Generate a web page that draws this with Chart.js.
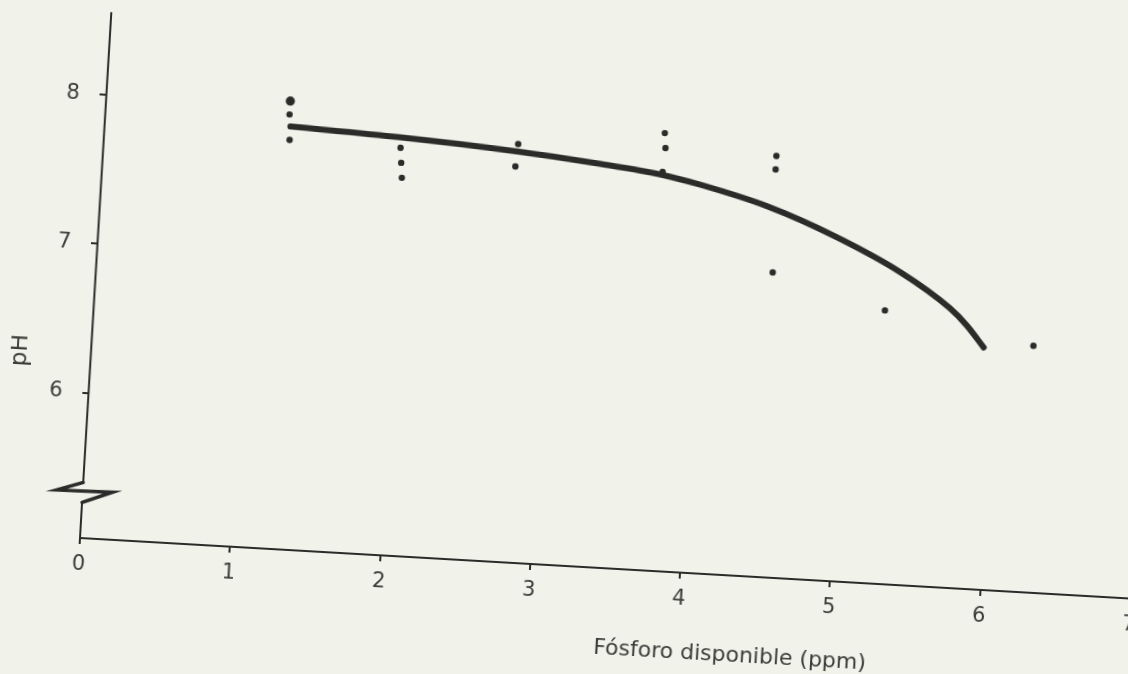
<!DOCTYPE html>
<html lang="es">
<head>
<meta charset="utf-8">
<title>pH y fósforo disponible</title>
<script src="https://cdn.jsdelivr.net/npm/chart.js@4.4.1/dist/chart.umd.min.js"></script>
<style>
  html, body { margin: 0; padding: 0; width: 1128px; height: 674px; overflow: hidden; background: #f1f2ea; }
  /* the drawing sits slightly tilted on the sheet */
  #hoja { position: absolute; left: 0; top: 0; width: 1180px; height: 674px;
          transform-origin: 80px 538px; transform: rotate(3.3deg); }
</style>
</head>
<body>
<div id="hoja"><canvas id="grafico"></canvas></div>
<script>
// Fitted curve: available phosphorus (ppm) vs pH
const curvaFosforo = [1.24, 1.97, 2.76, 3.31, 3.73, 3.98, 4.44, 4.89, 5.35, 5.69, 5.81, 5.93];
const curvaPH      = [7.86, 7.83, 7.78, 7.73, 7.68, 7.63, 7.51, 7.34, 7.12, 6.90, 6.79, 6.65];

// Observed samples
const muestraFosforo = [1.23, 1.24, 1.98, 1.99, 2.00, 2.76, 2.75, 3.73, 3.74, 3.73, 4.48, 4.48, 4.50, 5.26, 6.26];
const muestraPH      = [7.94, 7.77, 7.76, 7.66, 7.56, 7.83, 7.68, 7.96, 7.86, 7.70, 7.85, 7.76, 7.07, 6.86, 6.68];

// Larger ink dot at the top of the first group
const destacadoFosforo = [1.23];
const destacadoPH      = [8.03];

// Axis ticks and range
const ticksX = [0, 1, 2, 3, 4, 5, 6, 7];
const ticksY = [6, 7, 8];
const rangoX = [0, 7];
const rangoY = [5.028, 8.55];
const corteY = 5.34;   // where the pH axis is broken

const tituloX = 'Fósforo disponible (ppm)';
const tituloY = 'pH';

const aPuntos = (xs, ys) => xs.map((x, i) => ({ x: x, y: ys[i] }));

const tinta = '#2b2b29';
const gris  = '#3c3c39';
const fuente = "'DejaVu Sans', 'Liberation Sans', Arial, sans-serif";

// Draws the broken pH axis and both axis titles
const ejes = {
  id: 'ejes',
  afterDraw(chart) {
    const { ctx, chartArea, scales } = chart;
    const x0 = scales.x.getPixelForValue(rangoX[0]);
    const yTop = scales.y.getPixelForValue(rangoY[1]);
    const yBot = scales.y.getPixelForValue(rangoY[0]);
    const yc = scales.y.getPixelForValue(corteY);

    ctx.save();
    ctx.strokeStyle = tinta;
    ctx.lineJoin = 'miter';
    ctx.lineCap = 'round';
    ctx.lineWidth = 2;
    ctx.beginPath();
    ctx.moveTo(x0 + 1, yTop);
    ctx.lineTo(x0, yc - 9);
    ctx.stroke();
    ctx.beginPath();
    ctx.moveTo(x0, yc + 11);
    ctx.lineTo(x0, yBot);
    ctx.stroke();
    // zig-zag break
    ctx.lineWidth = 3.5;
    ctx.beginPath();
    ctx.moveTo(x0, yc - 9);
    ctx.lineTo(x0 - 26, yc);
    ctx.lineTo(x0 + 30, yc - 1);
    ctx.lineTo(x0, yc + 11);
    ctx.stroke();

    // axis titles
    ctx.fillStyle = gris;
    ctx.textAlign = 'center';
    ctx.textBaseline = 'middle';
    ctx.font = '22px ' + fuente;
    ctx.fillText(tituloX, scales.x.getPixelForValue(4.36), chartArea.bottom + 80);

    ctx.translate(x0 - 70, scales.y.getPixelForValue(6.26));
    ctx.rotate(-Math.PI / 2);
    ctx.font = '23px ' + fuente;
    ctx.fillText(tituloY, 0, 0);
    ctx.restore();
  }
};

const estiloTicks = { font: { family: fuente, size: 21 }, color: gris };

// keep the plot frame fixed: no extra room for edge labels
const sinRelleno = s => { s.paddingTop = 0; s.paddingBottom = 0; s.paddingLeft = 0; s.paddingRight = 0; };

new Chart(document.getElementById('grafico'), {
  type: 'scatter',
  data: {
    datasets: [
      {
        type: 'line',
        data: aPuntos(curvaFosforo, curvaPH),
        borderColor: tinta,
        borderWidth: 6,
        borderCapStyle: 'round',
        cubicInterpolationMode: 'monotone',
        pointRadius: 0,
        fill: false
      },
      {
        data: aPuntos(muestraFosforo, muestraPH),
        pointRadius: 3.2,
        pointBackgroundColor: tinta,
        pointBorderWidth: 0
      },
      {
        data: aPuntos(destacadoFosforo, destacadoPH),
        pointRadius: 4.6,
        pointBackgroundColor: tinta,
        pointBorderWidth: 0
      }
    ]
  },
  options: {
    responsive: true,
    maintainAspectRatio: false,
    animation: false,
    layout: { padding: { left: 0, right: 48, top: 12, bottom: 0 } },
    plugins: { legend: { display: false }, tooltip: { enabled: false } },
    scales: {
      x: {
        type: 'linear',
        min: rangoX[0],
        max: rangoX[1],
        afterBuildTicks: s => { s.ticks = ticksX.map(v => ({ value: v })); },
        afterFit: s => { s.height = 136; sinRelleno(s); },
        ticks: Object.assign({ padding: 8, maxRotation: 0, callback: v => String(v) }, estiloTicks),
        grid: { drawOnChartArea: false, drawTicks: true, tickLength: 6, color: tinta, lineWidth: 2 },
        border: { display: true, color: tinta, width: 2 }
      },
      y: {
        type: 'linear',
        min: rangoY[0],
        max: rangoY[1],
        afterBuildTicks: s => { s.ticks = ticksY.map(v => ({ value: v })); },
        afterFit: s => { s.width = 80; sinRelleno(s); },
        ticks: Object.assign({ padding: 20, callback: v => String(v) }, estiloTicks),
        grid: { drawOnChartArea: false, drawTicks: true, tickLength: 6, color: tinta, lineWidth: 2 },
        border: { display: false }
      }
    }
  },
  plugins: [ejes]
});
</script>
</body>
</html>
